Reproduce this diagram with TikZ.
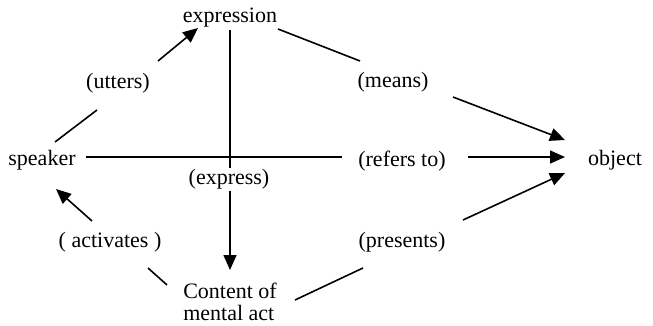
\documentclass[tikz,border=0pt]{standalone}
\usepackage{fontspec}
\setmainfont{Liberation Serif}
\usetikzlibrary{arrows.meta,calc}
\begin{document}
\begin{tikzpicture}[x=1pt,y=-1pt,
  lbl/.style={inner sep=0pt,font=\fontsize{22}{22}\selectfont},
  conn/.style={line width=1.6pt},
  arr/.style={conn,-{Triangle[length=15pt,width=13pt]}}]
\useasboundingbox (0,0) rectangle (653,326);
\node[lbl] (speaker) at (42,160) {speaker};
\node[lbl] (utters) at (118,83) {(utters)};
\node[lbl] (expr) at (230,18) {expression};
\node[lbl] (means) at (393,82) {(means)};
\node[lbl] (refers) at (402,161) {(refers to)};
\node[lbl] (object) at (615,160) {object};
\node[lbl] (express) at (229,179) {(express)};
\node[lbl] (activates) at (110,242) {( activates )};
\node[lbl] (presents) at (402,242) {(presents)};
\node[lbl,align=left] (content) at (230,302) {Content of\\mental act};

\draw[conn] ($(speaker)+(13,-18)$) -- ($(utters)+(-21,27)$);
\draw[arr] ($(utters)+(40,-22)$) -- ($(expr)+(-32,10)$);
\draw[conn] ($(expr)+(48,11)$) -- ($(means)+(-33,-21)$);
\draw[arr] ($(means)+(60,15)$) -- ($(object)+(-50,-20)$);
\draw[conn] ($(speaker)+(44,-3)$) -- ($(refers)+(-60,-4)$);
\draw[arr] ($(refers)+(66,-4)$) -- ($(object)+(-50,-3)$);
\draw[conn] ($(expr)+(0,12)$) -- ($(express)+(1,-11)$);
\draw[arr] ($(express)+(1,12)$) -- ($(content)+(0,-32)$);
\draw[conn] ($(activates)+(38,26)$) -- ($(content)+(-63,-17)$);
\draw[arr] ($(activates)+(-18,-21)$) -- ($(speaker)+(14,29)$);
\draw[conn] ($(content)+(65,-2)$) -- ($(presents)+(-39,26)$);
\draw[arr] ($(presents)+(61,-22)$) -- ($(object)+(-50,13)$);
\end{tikzpicture}
\end{document}
